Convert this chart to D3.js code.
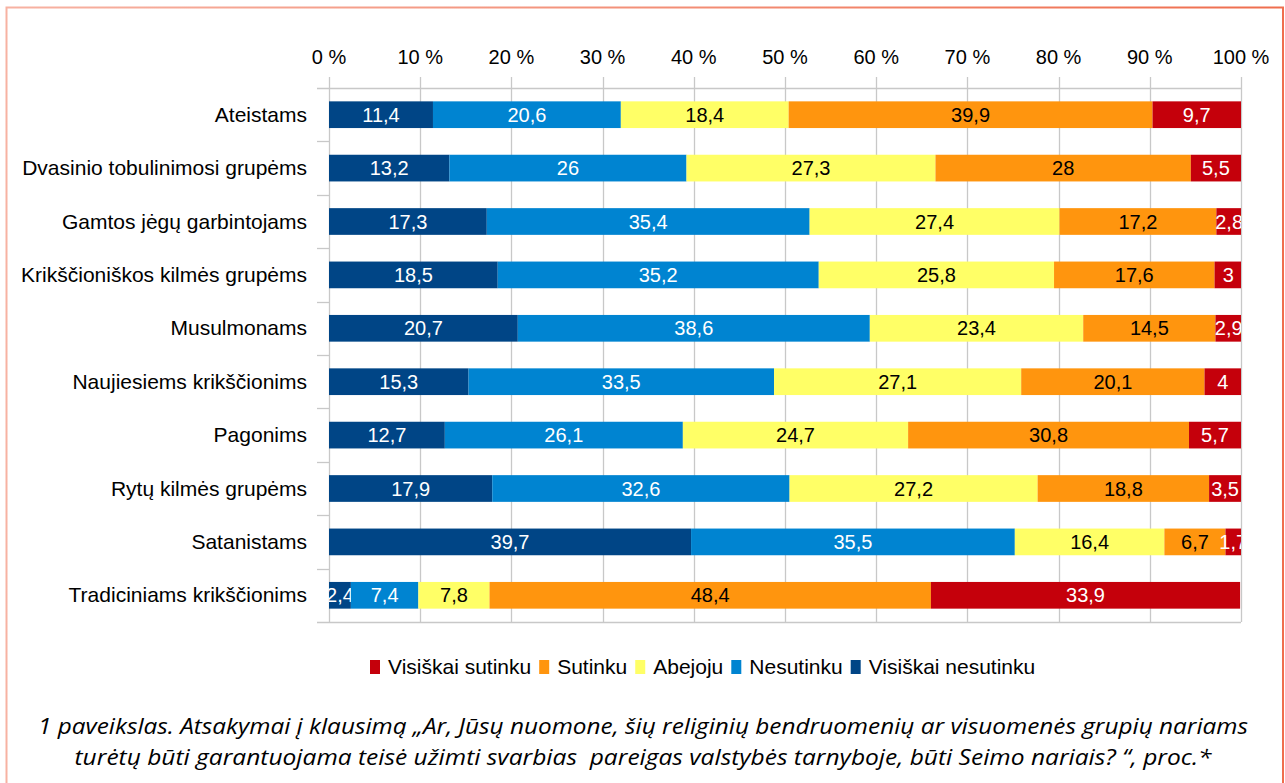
<!DOCTYPE html>
<html>
<head>
<meta charset="utf-8">
<script src="https://cdn.jsdelivr.net/npm/d3@7"></script>
<style>
  body { margin: 0; background: #fff; }
  svg { display: block; }
</style>
</head>
<body>
<svg id="chart" width="1285" height="783"></svg>
<script>
// Duomenys

const categories = [
  "Ateistams",
  "Dvasinio tobulinimosi grupėms",
  "Gamtos jėgų garbintojams",
  "Krikščioniškos kilmės grupėms",
  "Musulmonams",
  "Naujiesiems krikščionims",
  "Pagonims",
  "Rytų kilmės grupėms",
  "Satanistams",
  "Tradiciniams krikščionims",
];

const series = ["Visiškai nesutinku", "Nesutinku", "Abejoju", "Sutinku", "Visiškai sutinku"];
const legendOrder = ["Visiškai sutinku", "Sutinku", "Abejoju", "Nesutinku", "Visiškai nesutinku"];

const visiskaiNesutinku = [11.4, 13.2, 17.3, 18.5, 20.7, 15.3, 12.7, 17.9, 39.7, 2.4];
const nesutinku = [20.6, 26, 35.4, 35.2, 38.6, 33.5, 26.1, 32.6, 35.5, 7.4];
const abejoju = [18.4, 27.3, 27.4, 25.8, 23.4, 27.1, 24.7, 27.2, 16.4, 7.8];
const sutinku = [39.9, 28, 17.2, 17.6, 14.5, 20.1, 30.8, 18.8, 6.7, 48.4];
const visiskaiSutinku = [9.7, 5.5, 2.8, 3, 2.9, 4, 5.7, 3.5, 1.7, 33.9];

const xTicks = [0, 10, 20, 30, 40, 50, 60, 70, 80, 90, 100];

const colors = {
  "Visiškai nesutinku": "#004586",
  "Nesutinku": "#0084d1",
  "Abejoju": "#ffff66",
  "Sutinku": "#ff950e",
  "Visiškai sutinku": "#c5000b",
};
const textColors = {
  "Visiškai nesutinku": "#fff",
  "Nesutinku": "#fff",
  "Abejoju": "#000",
  "Sutinku": "#000",
  "Visiškai sutinku": "#fff",
};

const caption = [
  "1 paveikslas. Atsakymai į klausimą „Ar, Jūsų nuomone, šių religinių bendruomenių ar visuomenės grupių nariams",
  "turėtų būti garantuojama teisė užimti svarbias  pareigas valstybės tarnyboje, būti Seimo nariais? “, proc.*",
];

// Lentelė sukrovimui
const table = categories.map((c, i) => ({
  category: c,
  "Visiškai nesutinku": visiskaiNesutinku[i],
  "Nesutinku": nesutinku[i],
  "Abejoju": abejoju[i],
  "Sutinku": sutinku[i],
  "Visiškai sutinku": visiskaiSutinku[i],
}));

const svg = d3.select("#chart");
const font = "'Liberation Sans', Arial, sans-serif";

// Rėmelis
const defs = svg.append("defs");
const grad = defs.append("linearGradient").attr("id", "border").attr("x1", "0").attr("x2", "1");
grad.append("stop").attr("offset", "0").attr("stop-color", "#f7b2a2");
grad.append("stop").attr("offset", "1").attr("stop-color", "#ef6e4e");
svg.append("path")
  .attr("d", "M6.5,790 V7.5 H1283 V790")
  .attr("fill", "none")
  .attr("stroke", "url(#border)")
  .attr("stroke-width", 2);

const plotLeft = 329, plotRight = 1241, plotTop = 88, plotBottom = 622;

defs.append("clipPath").attr("id", "plot")
  .append("rect")
  .attr("x", plotLeft).attr("y", plotTop)
  .attr("width", plotRight - plotLeft).attr("height", plotBottom - plotTop);

const x = d3.scaleLinear().domain([0, 100]).range([plotLeft, plotRight]);
const y = d3.scaleBand().domain(categories).range([plotTop, plotBottom]).paddingInner(0.5).paddingOuter(0.25);

// Tinklelis
svg.append("g")
  .selectAll("line")
  .data(xTicks)
  .enter()
  .append("line")
  .attr("x1", (d) => Math.round(x(d)) + 0.5)
  .attr("x2", (d) => Math.round(x(d)) + 0.5)
  .attr("y1", plotTop - 11)
  .attr("y2", plotBottom)
  .attr("stroke", "#c8c8c8")
  .attr("stroke-width", 1.3);

// Ašys
svg.append("line")
  .attr("x1", plotLeft - 12).attr("x2", plotRight)
  .attr("y1", plotTop + 0.5).attr("y2", plotTop + 0.5)
  .attr("stroke", "#c8c8c8").attr("stroke-width", 1.3);
svg.append("line")
  .attr("x1", plotLeft - 12).attr("x2", plotRight)
  .attr("y1", plotBottom + 0.5).attr("y2", plotBottom + 0.5)
  .attr("stroke", "#c8c8c8").attr("stroke-width", 1.3);

const step = (plotBottom - plotTop) / categories.length;
svg.append("g")
  .selectAll("line")
  .data(d3.range(1, categories.length))
  .enter()
  .append("line")
  .attr("x1", plotLeft - 12).attr("x2", plotLeft)
  .attr("y1", (d) => Math.round(plotTop + d * step) + 0.5)
  .attr("y2", (d) => Math.round(plotTop + d * step) + 0.5)
  .attr("stroke", "#c8c8c8").attr("stroke-width", 1.3);

// Viršutinė ašis
svg.append("g")
  .selectAll("text")
  .data(xTicks)
  .enter()
  .append("text")
  .attr("x", (d) => x(d))
  .attr("y", 64)
  .attr("text-anchor", "middle")
  .style("font-family", font)
  .style("font-size", "20px")
  .text((d) => d + " %");

// Kategorijos
svg.append("g")
  .selectAll("text")
  .data(categories)
  .enter()
  .append("text")
  .attr("x", 307)
  .attr("y", (d) => y(d) + y.bandwidth() / 2 + 7)
  .attr("text-anchor", "end")
  .style("font-family", font)
  .style("font-size", "21px")
  .text((d) => d);

// Stulpeliai
const stack = d3.stack().keys(series)(table);

const layers = svg.append("g")
  .attr("clip-path", "url(#plot)")
  .selectAll("g")
  .data(stack)
  .enter()
  .append("g")
  .attr("fill", (d) => colors[d.key]);

layers.selectAll("rect")
  .data((d) => d)
  .enter()
  .append("rect")
  .attr("x", (d) => x(d[0]))
  .attr("y", (d) => y(d.data.category))
  .attr("width", (d) => x(d[1]) - x(d[0]))
  .attr("height", y.bandwidth());

layers.selectAll("text")
  .data((d) => d.map((v) => ({ v: v, key: d.key })))
  .enter()
  .append("text")
  .attr("x", (d) => (x(d.v[0]) + x(d.v[1])) / 2)
  .attr("y", (d) => y(d.v.data.category) + y.bandwidth() / 2 + 7)
  .attr("text-anchor", "middle")
  .style("font-family", font)
  .style("font-size", "20px")
  .style("fill", (d) => textColors[d.key])
  .text((d) => String(d.v.data[d.key]).replace(".", ","));

// Legenda
const legend = svg.append("g").attr("transform", "translate(370,667)");
let lx = 0;
legendOrder.forEach((k) => {
  const item = legend.append("g").attr("transform", "translate(" + lx + ",0)");
  item.append("rect")
    .attr("x", 0).attr("y", -7)
    .attr("width", 10).attr("height", 14)
    .attr("fill", colors[k]);
  const t = item.append("text")
    .attr("x", 18).attr("y", 7)
    .style("font-family", font)
    .style("font-size", "21px")
    .text(k);
  lx += 18 + t.node().getComputedTextLength() + 8;
});

// Paaiškinimas
const captionWidths = [1210, 1137];
svg.append("g")
  .selectAll("text")
  .data(caption)
  .enter()
  .append("text")
  .attr("x", 643)
  .attr("y", (d, i) => 734 + i * 31)
  .attr("text-anchor", "middle")
  .attr("textLength", (d, i) => captionWidths[i])
  .attr("lengthAdjust", "spacingAndGlyphs")
  .style("white-space", "pre")
  .style("font-family", "'Open Sans', sans-serif")
  .style("font-style", "italic")
  .style("font-size", "22px")
  .text((d) => d);
</script>
</body>
</html>
